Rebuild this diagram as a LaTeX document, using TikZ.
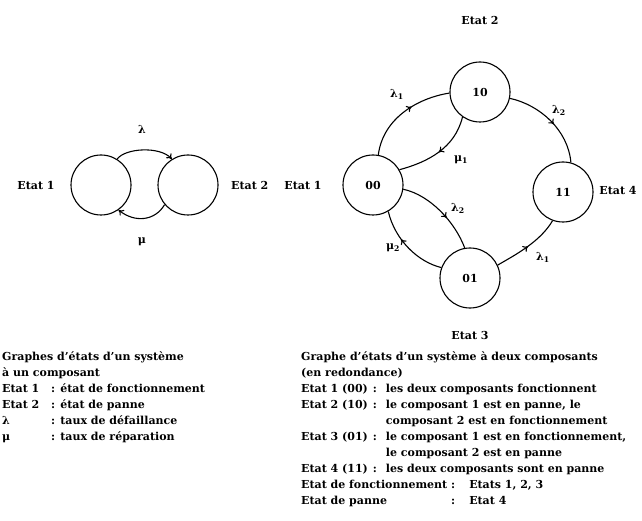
\documentclass[tikz,border=0pt]{standalone}
\usepackage{fontspec}
\setmainfont{DejaVu Serif}
\usetikzlibrary{arrows.meta,decorations.markings}
\begin{document}
\begin{tikzpicture}[x=1pt,y=-1pt,
  txt/.style={font=\bfseries\fontsize{11}{16}\selectfont,inner sep=0pt},
  st/.style={circle,draw,line width=1.1pt,minimum size=60pt,inner sep=0pt,font=\bfseries\fontsize{11}{16}\selectfont},
  conn/.style={line width=1.1pt},
  tip/.style={-{To[length=5pt,width=7pt]}},
  midarrow/.style={postaction={decorate},decoration={markings,mark=at position #1 with {\arrow{To[length=5pt,width=7pt]}}}}]
\useasboundingbox (0,0) rectangle (642,521);
% ---------- left diagram ----------
\node[st] (a) at (101,185) {};
\node[st] (b) at (188,185) {};
\node[txt] (la) at (36,185) {Etat 1};
\node[txt,anchor=west] (lb) at (231,185) {Etat 2};
\node[txt] (llam) at (142,129) {λ};
\node[txt] (lmu) at (142,242) {μ};
\draw[conn,tip] (a.58) .. controls (125,148) and (160,146) .. (b.122);
\draw[conn,tip] (b.-140) .. controls (155,221) and (135,223) .. (a.-55);
% ---------- right diagram ----------
\node[st] (n00) at (373,185) {00};
\node[st] (n10) at (480,92) {10};
\node[st] (n11) at (563,192) {11};
\node[st] (n01) at (470,278) {01};
\node[txt] (e1) at (303,185) {Etat 1};
\node[txt] (e2) at (480,20) {Etat 2};
\node[txt] (e4) at (618,190) {Etat 4};
\node[txt] (e3) at (470,335) {Etat 3};
\draw[conn,midarrow=0.6] (n00.80) .. controls (383,118) and (418,98) .. (n10.182);
\draw[conn,midarrow=0.5] (n10.235) .. controls (455,148) and (428,162) .. (n00.30);
\draw[conn,midarrow=0.55] (n10.-12) .. controls (540,105) and (568,130) .. (n11.75);
\draw[conn,midarrow=0.6] (n00.-8) .. controls (430,195) and (455,222) .. (n01.100);
\draw[conn,midarrow=0.62] (n01.160) .. controls (418,262) and (395,240) .. (n00.-60);
\draw[conn,midarrow=0.5] (n01.25) .. controls (515,255) and (540,242) .. (n11.-110);
\node[txt] (t1) at (397,94) {λ\textsubscript{1}};
\node[txt] (t2) at (461,160) {μ\textsubscript{1}};
\node[txt] (t3) at (559,110) {λ\textsubscript{2}};
\node[txt] (t4) at (458,208) {λ\textsubscript{2}};
\node[txt] (t5) at (393,248) {μ\textsubscript{2}};
\node[txt] (t6) at (543,257) {λ\textsubscript{1}};
% ---------- captions ----------
\node[txt,anchor=north west,align=left] (capL) at (2,349) {%
\begin{tabular}{@{}p{46pt}@{\hspace{3pt}}l@{}}
\multicolumn{2}{@{}l@{}}{Graphes d'états d'un système}\\
\multicolumn{2}{@{}l@{}}{à un composant}\\
Etat 1 & : état de fonctionnement\\
Etat 2 & : état de panne\\
λ & : taux de défaillance\\
μ & : taux de réparation
\end{tabular}};
\node[txt,anchor=north west,align=left] (capR) at (301,349) {%
\begin{tabular}{@{}l@{\hspace{5pt}}l@{\hspace{9pt}}l@{}}
\multicolumn{3}{@{}l@{}}{Graphe d'états d'un système à deux composants}\\
\multicolumn{3}{@{}l@{}}{(en redondance)}\\
Etat 1 (00) & : & les deux composants fonctionnent\\
Etat 2 (10) & : & le composant 1 est en panne, le\\
 & & composant 2 est en fonctionnement\\
Etat 3 (01) & : & le composant 1 est en fonctionnement,\\
 & & le composant 2 est en panne\\
Etat 4 (11) & : & les deux composants sont en panne\\
\multicolumn{3}{@{}l@{}}{\makebox[150pt][l]{Etat de fonctionnement}:\hspace{14pt}Etats 1, 2, 3}\\
\multicolumn{3}{@{}l@{}}{\makebox[150pt][l]{Etat de panne}:\hspace{14pt}Etat 4}
\end{tabular}};
\end{tikzpicture}
\end{document}
